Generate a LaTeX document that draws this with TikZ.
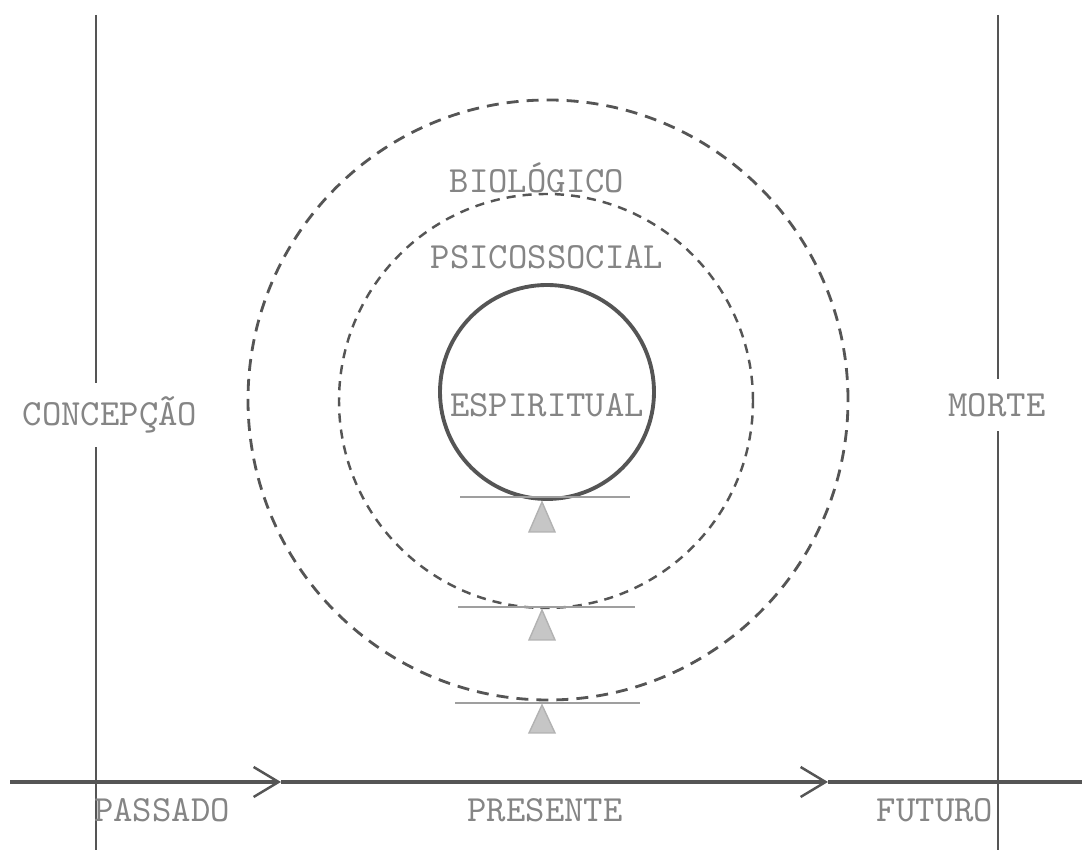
\documentclass[tikz,border=0pt]{standalone}
\usepackage{fontspec}
\usetikzlibrary{arrows.meta,positioning}
\definecolor{inkgray}{HTML}{555555}
\definecolor{textgray}{HTML}{858585}

\begin{document}
\begin{tikzpicture}[
    ring/.style={circle, draw=inkgray, line width=0.8pt, dash pattern=on 3.4pt off 2.3pt, inner sep=0pt},
    innerring/.style={circle, draw=inkgray, line width=0.7pt, dash pattern=on 2.6pt off 2pt, inner sep=0pt},
    core/.style={circle, draw=inkgray, line width=1.1pt, inner sep=0pt},
    word/.style={font=\ttfamily\fontsize{10.5}{12}\selectfont, text=textgray, inner sep=1pt},
    limit/.style={draw=inkgray, line width=0.7pt},
    timeline/.style={draw=inkgray, line width=1pt},
    barline/.style={draw=gray!75, line width=0.8pt},
    fulcrum/.style={fill=gray!45, draw=gray!60, line width=0.4pt},
    ahead/.style={-{Straight Barb[length=2.5mm, width=3mm, line width=0.7pt]}}
]
\useasboundingbox (0,0) rectangle (10.82,8.52);

% Life limits
\coordinate (conctop) at (0.96,8.37);
\coordinate (concbot) at (0.96,0.02);
\coordinate (morttop) at (9.98,8.37);
\coordinate (mortbot) at (9.98,0.02);
\draw[limit] (conctop) -- (concbot);
\draw[limit] (morttop) -- (mortbot);
\node[word, fill=white, inner sep=4pt] (concepcao) at (1.10,4.37) {CONCEPÇÃO};
\node[word, fill=white, inner sep=4pt] (morte) at (9.97,4.47) {MORTE};

% Time axis
\coordinate (tstart) at (0.10,0.70);
\coordinate (tarrow1) at (2.81,0.70);
\coordinate (tarrow2) at (8.28,0.70);
\coordinate (tend) at (10.82,0.70);
\draw[timeline, ahead] (tstart) -- (tarrow1);
\draw[timeline, ahead] (tarrow1) -- (tarrow2);
\draw[timeline] (tarrow2) -- (tend);
\node[word] (passado) at (1.62,0.42) {PASSADO};
\node[word] (presente) at (5.45,0.42) {PRESENTE};
\node[word] (futuro) at (9.35,0.42) {FUTURO};

% Dimensions
\node[ring, minimum size=6.0cm] (biologico) at (5.48,4.52) {};
\node[innerring, minimum size=4.14cm] (psicossocial) at (5.46,4.51) {};
\node[core, minimum size=2.14cm] (espiritual) at (5.47,4.60) {};
\node[word] (biolabel) at (5.37,6.74) {BIOLÓGICO};
\node[word] (psilabel) at (5.47,5.95) {PSICOSSOCIAL};
\node[word] (esplabel) at (5.47,4.47) {ESPIRITUAL};

% Balances
\coordinate (f1) at (5.42,3.50);
\coordinate (f2) at (5.42,2.42);
\coordinate (f3) at (5.42,1.47);
\draw[barline] ([xshift=-0.82cm,yshift=0.05cm]f1) -- ([xshift=0.88cm,yshift=0.05cm]f1);
\draw[barline] ([xshift=-0.84cm,yshift=0.03cm]f2) -- ([xshift=0.93cm,yshift=0.03cm]f2);
\draw[barline] ([xshift=-0.87cm,yshift=0.02cm]f3) -- ([xshift=0.98cm,yshift=0.02cm]f3);
\filldraw[fulcrum] (f1) -- ++(-0.13,-0.30) -- ++(0.26,0) -- cycle;
\filldraw[fulcrum] (f2) -- ++(-0.13,-0.30) -- ++(0.26,0) -- cycle;
\filldraw[fulcrum] (f3) -- ++(-0.13,-0.28) -- ++(0.26,0) -- cycle;

\end{tikzpicture}
\end{document}
